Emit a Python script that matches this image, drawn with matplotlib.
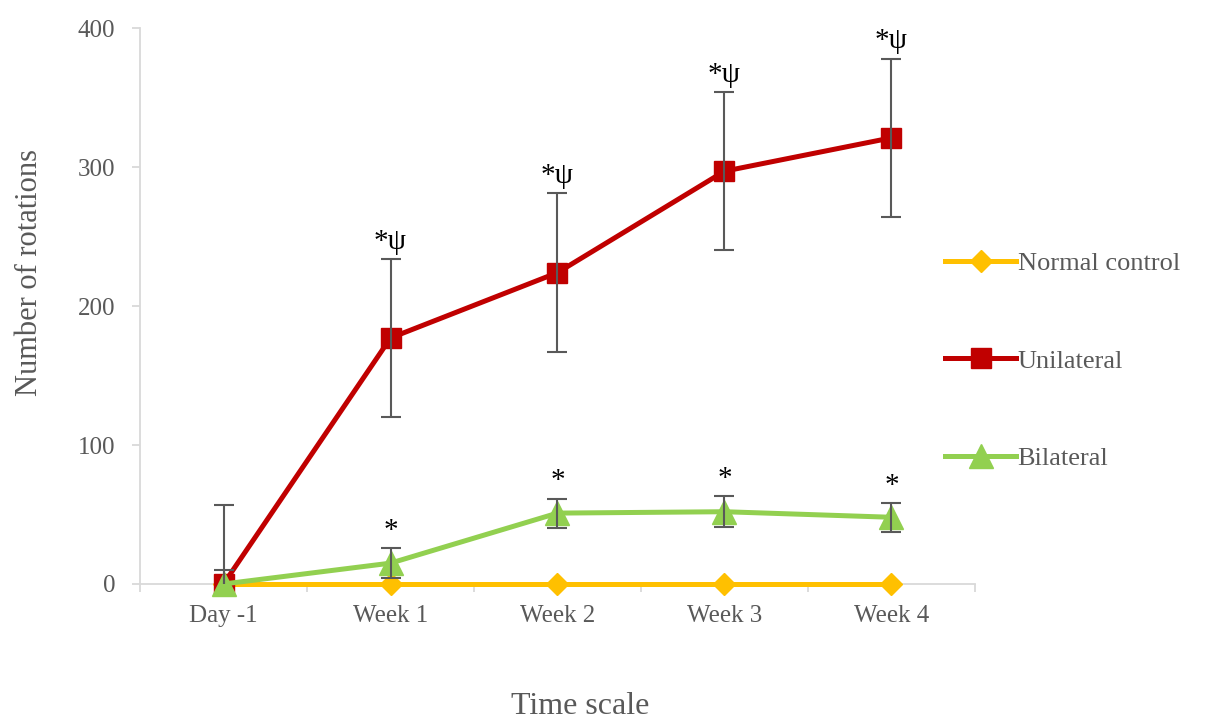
import numpy as np
import matplotlib
matplotlib.use('Agg')
import matplotlib.pyplot as plt

plt.rcParams['font.family'] = ['Liberation Serif', 'DejaVu Serif']

# data: rotation counts per group over time (mean +/- error)
time_points = ['Day -1', 'Week 1', 'Week 2', 'Week 3', 'Week 4']
normal_mean = [0, 0, 0, 0, 0]
uni_mean = [0, 177, 224, 297, 321]
uni_err = [57, 57, 57, 57, 57]
bi_mean = [0, 15, 51, 52, 48]
bi_err = [10, 11, 10.5, 11, 10.5]
uni_marks = ['', '*ψ', '*ψ', '*ψ', '*ψ']
bi_marks = ['', '*', '*', '*', '*']

grey_txt = '#595959'
axis_col = '#d9d9d9'

fig = plt.figure(figsize=(12.25, 7.26), dpi=100)
ax = fig.add_axes([0.1143, 0.1956, 0.6816, 0.7658])

x = np.arange(len(time_points))

ax.plot(x, normal_mean, color='#FFC000', lw=3.6, marker='D', ms=11,
        label='Normal control', zorder=3, clip_on=False)
ax.plot(x, uni_mean, color='#C00000', lw=3.6, marker='s', ms=15,
        label='Unilateral', zorder=3, clip_on=False)
ax.plot(x, bi_mean, color='#92D050', lw=3.6, marker='^', ms=17,
        label='Bilateral', zorder=4, clip_on=False)

# error bars on top of the markers
ax.errorbar(x, uni_mean, yerr=uni_err, fmt='none', ecolor=grey_txt,
            elinewidth=1.5, capsize=7, capthick=1.5, zorder=5)
ax.errorbar(x, bi_mean, yerr=bi_err, fmt='none', ecolor=grey_txt,
            elinewidth=1.5, capsize=7, capthick=1.5, zorder=5)

# significance marks above the bars
for xi, m, e, s in zip(x, uni_mean, uni_err, uni_marks):
    if s:
        ax.annotate(s, (xi, m + e), xytext=(0, 3), textcoords='offset points',
                    ha='center', va='bottom', fontsize=21, color='black')
for xi, m, e, s in zip(x, bi_mean, bi_err, bi_marks):
    if s:
        ax.annotate(s, (xi, m + e), xytext=(0, 3), textcoords='offset points',
                    ha='center', va='bottom', fontsize=21, color='black')

ax.set_xlim(-0.5, len(time_points) - 0.5)
ax.set_ylim(0, 400)
ax.set_yticks([0, 100, 200, 300, 400])

ax.set_xticks(x)
ax.set_xticklabels(time_points)
ax.set_xticks(np.arange(-0.5, len(time_points), 1), minor=True)
ax.tick_params(axis='x', which='major', length=0, pad=15, labelsize=18,
               labelcolor=grey_txt)
ax.tick_params(axis='x', which='minor', length=6, width=1.3, color=axis_col,
               direction='out')
ax.tick_params(axis='y', length=6, width=1.3, color=axis_col, pad=12,
               labelsize=18, labelcolor=grey_txt)

for side in ['top', 'right']:
    ax.spines[side].set_visible(False)
for side in ['left', 'bottom']:
    ax.spines[side].set_color(axis_col)
    ax.spines[side].set_linewidth(1.3)

fig.text(30 / 1225, 1 - 273 / 726, 'Number of rotations', rotation=90,
         ha='center', va='center', fontsize=22, color=grey_txt)
fig.text(580 / 1225, 1 - 706 / 726, 'Time scale', ha='center', va='center',
         fontsize=23, color=grey_txt)

leg = fig.legend(loc='center left', bbox_to_anchor=(0.752, 0.503),
                 frameon=False, fontsize=19, handlelength=2.7,
                 handletextpad=0.05, labelspacing=2.8)
for t in leg.get_texts():
    t.set_color(grey_txt)

fig.savefig('out.png', dpi=100)
